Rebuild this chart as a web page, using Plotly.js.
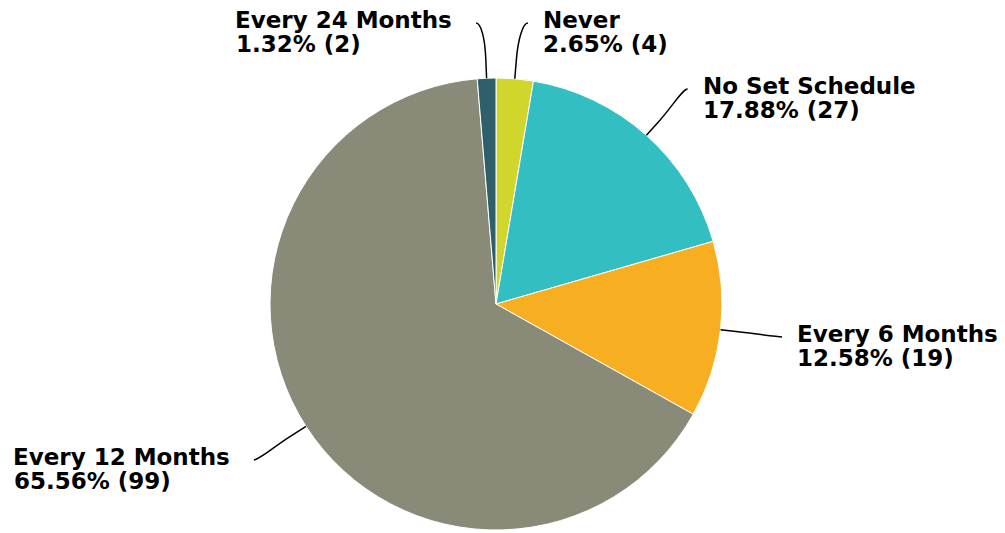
<!DOCTYPE html>
<html>
<head>
<meta charset="utf-8">
<script src="https://cdn.plot.ly/plotly-3.0.1.min.js"></script>
<style>html,body{margin:0;padding:0;background:#fff;}#chart{width:1005px;height:533px;}</style>
</head>
<body>
<div id="chart"></div>
<script>
// ---- data ----
const categories = ["Never", "No Set Schedule", "Every 6 Months", "Every 12 Months", "Every 24 Months"];
const counts = [4, 27, 19, 99, 2];
const colors = ["#d0d62b", "#33bec1", "#f7ae20", "#8a8a78", "#2e5f6b"];

// ---- layout constants (pixels) ----
const W = 1005, H = 533;
const cx = 496, cy = 304, r = 226;
const labelR = 288;      // radius where connectors end
const breakR = r + 20;   // connector bend radius
const minLabelY = 23;    // labels cannot go above this
const fontSize = 23;
const lineGap = 24;

const total = counts.reduce((a, b) => a + b, 0);
const shapes = [];
const annotations = [];
let cum = 0;
counts.forEach((v, i) => {
  const mid = (cum + v / 2) / total;
  cum += v;
  const a = mid * 2 * Math.PI;           // clockwise from 12 o'clock
  const s = Math.sin(a), c = Math.cos(a);
  const right = s >= 0;
  const touch = {x: cx + r * s, y: cy - r * c};
  const brk = {x: cx + breakR * s, y: cy - breakR * c};
  let end = {x: cx + labelR * s, y: cy - labelR * c};
  if (end.y < minLabelY) { end.y = minLabelY; end.x += right ? 8 : -8; }
  const c1x = end.x + (right ? -5 : 5), c1y = end.y;
  const c2x = 2 * brk.x - touch.x, c2y = 2 * brk.y - touch.y;
  shapes.push({
    type: "path", xref: "x", yref: "y",
    path: `M ${end.x},${end.y} C ${c1x},${c1y} ${c2x},${c2y} ${brk.x},${brk.y} L ${touch.x},${touch.y}`,
    line: {color: "#000000", width: 1.5}
  });
  const tx = right ? end.x + 13 : end.x - 22;
  const pct = (v / total * 100).toFixed(2) + "% (" + v + ")";
  const f = {family: "DejaVu Sans", size: fontSize, color: "#000000", weight: "bold"};
  annotations.push({x: tx, y: end.y - 3, xref: "x", yref: "y", text: categories[i], showarrow: false,
    xanchor: right ? "left" : "right", yanchor: "middle", align: "left", font: f});
  annotations.push({x: tx, y: end.y - 3 + lineGap, xref: "x", yref: "y", text: pct, showarrow: false,
    xanchor: right ? "left" : "right", yanchor: "middle", align: "left", font: f});
});

const trace = {
  type: "pie",
  labels: categories,
  values: counts,
  sort: false,
  direction: "clockwise",
  rotation: 0,
  textinfo: "none",
  hoverinfo: "label+percent+value",
  marker: {colors: colors, line: {color: "#ffffff", width: 1}},
  domain: {x: [(cx - r) / W, (cx + r) / W], y: [(H - cy - r) / H, (H - cy + r) / H]},
  showlegend: false
};

const layout = {
  width: W, height: H,
  margin: {l: 0, r: 0, t: 0, b: 0},
  paper_bgcolor: "#ffffff", plot_bgcolor: "rgba(0,0,0,0)",
  xaxis: {range: [0, W], visible: false, fixedrange: true},
  yaxis: {range: [H, 0], visible: false, fixedrange: true},
  showlegend: false,
  shapes: shapes,
  annotations: annotations
};

Plotly.newPlot("chart", [trace], layout, {displayModeBar: false, staticPlot: true}).then(gd => {
  // left-side labels: left-align the value line with the name line
  const anns = gd.layout.annotations.map(a => Object.assign({}, a));
  const nodes = gd.querySelectorAll(".annotation");
  let changed = false;
  for (let k = 0; k < anns.length; k += 2) {
    if (anns[k].xanchor === "right") {
      const b1 = nodes[k].getBoundingClientRect();
      anns[k + 1].xanchor = "left";
      anns[k + 1].x = b1.left;
      changed = true;
    }
  }
  if (changed) Plotly.relayout(gd, {annotations: anns});
});
</script>
</body>
</html>
